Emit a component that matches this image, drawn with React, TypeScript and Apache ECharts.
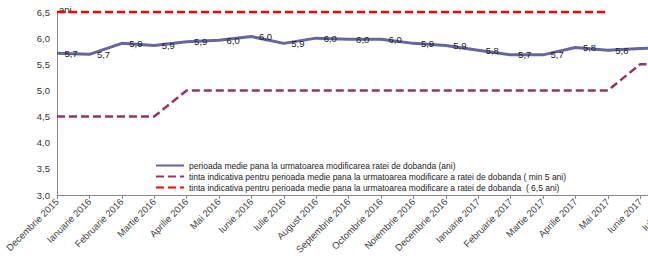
import React, { useEffect, useRef } from "react";
import * as echarts from "echarts";

const categories = [
  "Decembrie 2015", "Ianuarie 2016", "Februarie 2016", "Martie 2016", "Aprilie 2016",
  "Mai 2016", "Iunie 2016", "Iulie 2016", "August 2016", "Septembrie 2016",
  "Octombrie 2016", "Noiembrie 2016", "Decembrie 2016", "Ianuarie 2017", "Februarie 2017",
  "Martie 2017", "Aprilie 2017", "Mai 2017", "Iunie 2017", "Iulie 2017",
];

const perioadaMedie = [5.71, 5.69, 5.9, 5.86, 5.93, 5.96, 6.03, 5.9, 6.0, 5.98, 5.98, 5.9, 5.86, 5.77, 5.68, 5.68, 5.82, 5.77, 5.8, 5.82];
const tintaMin5 = [4.5, 4.5, 4.5, 4.5, 5, 5, 5, 5, 5, 5, 5, 5, 5, 5, 5, 5, 5, 5, 5.5, 5.5];
const tinta65 = [6.5, 6.5, 6.5, 6.5, 6.5, 6.5, 6.5, 6.5, 6.5, 6.5, 6.5, 6.5, 6.5, 6.5, 6.5, 6.5, 6.5, 6.5, null, null];

const seriesNames = [
  "perioada medie pana la urmatoarea modificarea ratei de dobanda (ani)",
  "tinta indicativa pentru perioada medie pana la urmatoarea modificare a ratei de dobanda ( min 5 ani)",
  "tinta indicativa pentru perioada medie pana la urmatoarea modificare a ratei de dobanda  ( 6,5 ani)",
];

// labels of the points beyond the visible (cropped) right edge are not shown
const lastLabelledIndex = 17;

const FONT = "'Liberation Sans', Arial, sans-serif";

export default function App() {
  const ref = useRef<HTMLDivElement>(null);
  useEffect(() => {
    document.body.style.margin = "0";
    const chart = echarts.init(ref.current!, null, { renderer: "svg" });
    const fmt = (v: number) => v.toFixed(1).replace(".", ",");
    chart.setOption({
      animation: false,
      textStyle: { fontFamily: FONT },
      grid: {
        left: 57,
        top: 12,
        height: 183,
        width: 19 * 32.4,
        containLabel: false,
        outerBoundsMode: "none",
      },
      legend: {
        orient: "vertical",
        left: 150,
        top: 156,
        itemWidth: 28,
        itemHeight: 8,
        itemGap: 2,
        itemStyle: { opacity: 0 },
        textStyle: { fontSize: 8.5, color: "#222", fontFamily: FONT },
        data: seriesNames,
      },
      graphic: [
        {
          type: "text",
          left: 59,
          top: 4,
          style: { text: "ani", fontSize: 9.5, fill: "#222", fontFamily: FONT },
        },
      ],
      xAxis: {
        type: "category",
        data: categories,
        boundaryGap: false,
        axisLine: { lineStyle: { color: "#888", width: 1 } },
        axisTick: { show: true, length: 4, lineStyle: { color: "#888" } },
        axisLabel: {
          interval: 0,
          rotate: 45,
          fontSize: 9.5,
          color: "#444",
          margin: 5,
          fontFamily: FONT,
        },
      },
      yAxis: {
        type: "value",
        min: 3,
        max: 6.5,
        interval: 0.5,
        splitLine: { show: false },
        axisLine: { show: true, lineStyle: { color: "#888", width: 1 } },
        axisTick: { show: false },
        axisLabel: {
          fontSize: 9.5,
          color: "#333",
          margin: 7,
          fontFamily: FONT,
          formatter: (v: number) => fmt(v),
        },
      },
      series: [
        {
          name: seriesNames[0],
          type: "line",
          data: perioadaMedie,
          symbol: "circle",
          symbolSize: 1,
          showSymbol: true,
          clip: false,
          lineStyle: { color: "#65659f", width: 3 },
          itemStyle: { color: "rgba(0,0,0,0)", borderWidth: 0 },
          label: {
            show: true,
            position: "right",
            distance: 7,
            fontSize: 9.5,
            color: "#222",
            opacity: 1,
            fontFamily: FONT,
            formatter: (p: any) => (p.dataIndex > lastLabelledIndex ? "" : fmt(p.value)),
          },
          z: 3,
        },
        {
          name: seriesNames[1],
          type: "line",
          data: tintaMin5,
          symbol: "none",
          clip: false,
          lineStyle: { color: "#993366", width: 2.5, type: [8, 4] },
          itemStyle: { color: "#993366" },
          z: 2,
        },
        {
          name: seriesNames[2],
          type: "line",
          data: tinta65,
          symbol: "none",
          clip: false,
          lineStyle: { color: "#ff0000", width: 2.5, type: [8, 4] },
          itemStyle: { color: "#ff0000" },
          z: 2,
        },
      ],
    });
    return () => chart.dispose();
  }, []);
  return <div ref={ref} style={{ width: 648, height: 270 }} />;
}
